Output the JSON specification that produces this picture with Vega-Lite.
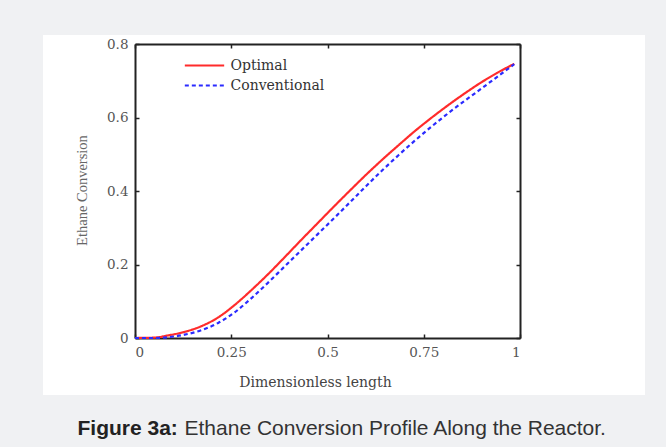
{
  "$schema": "https://vega.github.io/schema/vega-lite/v6.json",
  "width": 602,
  "height": 360,
  "autosize": {"type": "none"},
  "padding": {"left": 43, "top": 35, "right": 21, "bottom": 52},
  "background": "#f0f1f3",
  "view": {"fill": "#ffffff", "stroke": null},
  "config": {
    "axis": {
      "grid": false,
      "domainColor": "#222222",
      "domainWidth": 2,
      "tickColor": "#222222",
      "tickWidth": 1.5,
      "tickSize": -4,
      "labelFont": "DejaVu Serif",
      "labelFontSize": 13.5,
      "labelColor": "#555555",
      "titleFont": "DejaVu Serif",
      "titleFontWeight": "normal",
      "titleColor": "#444444"
    }
  },
  "data": {
    "values": [
      {"x": 0, "y": 0, "series": "Optimal"},
      {"x": 0.05, "y": 0.001, "series": "Optimal"},
      {"x": 0.086, "y": 0.007, "series": "Optimal"},
      {"x": 0.13, "y": 0.017, "series": "Optimal"},
      {"x": 0.172, "y": 0.032, "series": "Optimal"},
      {"x": 0.216, "y": 0.056, "series": "Optimal"},
      {"x": 0.259, "y": 0.09, "series": "Optimal"},
      {"x": 0.302, "y": 0.13, "series": "Optimal"},
      {"x": 0.345, "y": 0.173, "series": "Optimal"},
      {"x": 0.388, "y": 0.219, "series": "Optimal"},
      {"x": 0.431, "y": 0.266, "series": "Optimal"},
      {"x": 0.474, "y": 0.312, "series": "Optimal"},
      {"x": 0.517, "y": 0.358, "series": "Optimal"},
      {"x": 0.56, "y": 0.403, "series": "Optimal"},
      {"x": 0.6, "y": 0.444, "series": "Optimal"},
      {"x": 0.643, "y": 0.486, "series": "Optimal"},
      {"x": 0.685, "y": 0.525, "series": "Optimal"},
      {"x": 0.728, "y": 0.564, "series": "Optimal"},
      {"x": 0.771, "y": 0.6, "series": "Optimal"},
      {"x": 0.814, "y": 0.634, "series": "Optimal"},
      {"x": 0.857, "y": 0.666, "series": "Optimal"},
      {"x": 0.9, "y": 0.696, "series": "Optimal"},
      {"x": 0.94, "y": 0.721, "series": "Optimal"},
      {"x": 0.985, "y": 0.746, "series": "Optimal"},
      {"x": 0, "y": 0, "series": "Conventional"},
      {"x": 0.05, "y": 0.0, "series": "Conventional"},
      {"x": 0.1, "y": 0.004, "series": "Conventional"},
      {"x": 0.129, "y": 0.009, "series": "Conventional"},
      {"x": 0.172, "y": 0.021, "series": "Conventional"},
      {"x": 0.216, "y": 0.041, "series": "Conventional"},
      {"x": 0.259, "y": 0.07, "series": "Conventional"},
      {"x": 0.302, "y": 0.108, "series": "Conventional"},
      {"x": 0.345, "y": 0.15, "series": "Conventional"},
      {"x": 0.388, "y": 0.194, "series": "Conventional"},
      {"x": 0.431, "y": 0.238, "series": "Conventional"},
      {"x": 0.474, "y": 0.282, "series": "Conventional"},
      {"x": 0.517, "y": 0.326, "series": "Conventional"},
      {"x": 0.56, "y": 0.371, "series": "Conventional"},
      {"x": 0.6, "y": 0.413, "series": "Conventional"},
      {"x": 0.643, "y": 0.457, "series": "Conventional"},
      {"x": 0.685, "y": 0.498, "series": "Conventional"},
      {"x": 0.728, "y": 0.538, "series": "Conventional"},
      {"x": 0.771, "y": 0.576, "series": "Conventional"},
      {"x": 0.814, "y": 0.612, "series": "Conventional"},
      {"x": 0.857, "y": 0.646, "series": "Conventional"},
      {"x": 0.9, "y": 0.679, "series": "Conventional"},
      {"x": 0.94, "y": 0.71, "series": "Conventional"},
      {"x": 0.985, "y": 0.745, "series": "Conventional"}
    ]
  },
  "layer": [
    {
      "mark": {"type": "line", "interpolate": "monotone", "strokeWidth": 2.2},
      "encoding": {
        "x": {
          "field": "x", "type": "quantitative",
          "scale": {"domain": [0, 1], "range": [92, 477], "nice": false, "zero": false},
          "axis": {
            "orient": "bottom", "offset": -57, "values": [0, 0.25, 0.5, 0.75, 1], "format": ".2~f",
            "labelPadding": 11, "title": "Dimensionless length", "titleFontSize": 14,
            "titleX": 272, "titleY": 44, "titleBaseline": "middle", "titleAlign": "center"
          }
        },
        "y": {
          "field": "y", "type": "quantitative",
          "scale": {"domain": [0, 0.8], "range": [303, 9], "nice": false, "zero": false},
          "axis": {
            "orient": "left", "offset": -92, "values": [0, 0.2, 0.4, 0.6, 0.8], "format": ".1~f",
            "labelPadding": 11, "title": "Ethane Conversion", "titleFont": "Liberation Serif",
            "titleFontSize": 14.5, "titleColor": "#666666",
            "titleX": -53, "titleY": 155, "titleAngle": -90, "titleBaseline": "middle", "titleAlign": "center"
          }
        },
        "color": {
          "field": "series", "type": "nominal",
          "scale": {"domain": ["Optimal", "Conventional"], "range": ["#ff2b2b", "#2b2bff"]},
          "legend": {
            "title": null, "orient": "none", "legendX": 151, "legendY": 20,
            "symbolType": "M-2.2,0H2.2", "symbolSize": 320, "symbolStrokeWidth": 2.2,
            "labelFont": "DejaVu Serif", "labelFontSize": 14, "labelColor": "#333333",
            "labelOffset": 15.5, "padding": 0, "rowPadding": 2
          }
        },
        "strokeDash": {
          "field": "series", "type": "nominal",
          "scale": {"domain": ["Optimal", "Conventional"], "range": [[1, 0], [4, 3]]},
          "legend": {
            "title": null, "orient": "none", "legendX": 151, "legendY": 20,
            "symbolType": "M-2.2,0H2.2", "symbolSize": 320, "symbolStrokeWidth": 2.2,
            "labelFont": "DejaVu Serif", "labelFontSize": 14, "labelColor": "#333333",
            "labelOffset": 15.5, "padding": 0, "rowPadding": 2
          }
        }
      }
    },
    {
      "mark": {"type": "line", "opacity": 0},
      "encoding": {
        "x": {
          "field": "x", "type": "quantitative",
          "axis": {
            "orient": "top", "offset": -9, "values": [0, 0.25, 0.5, 0.75, 1], "labels": false,
            "title": "Figure 3a:", "titleFont": "Liberation Sans", "titleFontSize": 21,
            "titleFontWeight": "bold", "titleColor": "#222222",
            "titleX": 34, "titleY": 390, "titleAlign": "left", "titleBaseline": "alphabetic", "titleAngle": 0
          }
        },
        "y": {
          "field": "y", "type": "quantitative",
          "axis": {
            "orient": "right", "offset": -125, "values": [0, 0.2, 0.4, 0.6, 0.8], "labels": false,
            "title": "Ethane Conversion Profile Along the Reactor.", "titleFont": "Liberation Sans",
            "titleFontSize": 21, "titleFontWeight": "normal", "titleColor": "#333333",
            "titleX": -336, "titleY": 399, "titleAlign": "left", "titleBaseline": "alphabetic", "titleAngle": 0
          }
        }
      }
    }
  ],
  "resolve": {"axis": {"x": "independent", "y": "independent"}}
}
